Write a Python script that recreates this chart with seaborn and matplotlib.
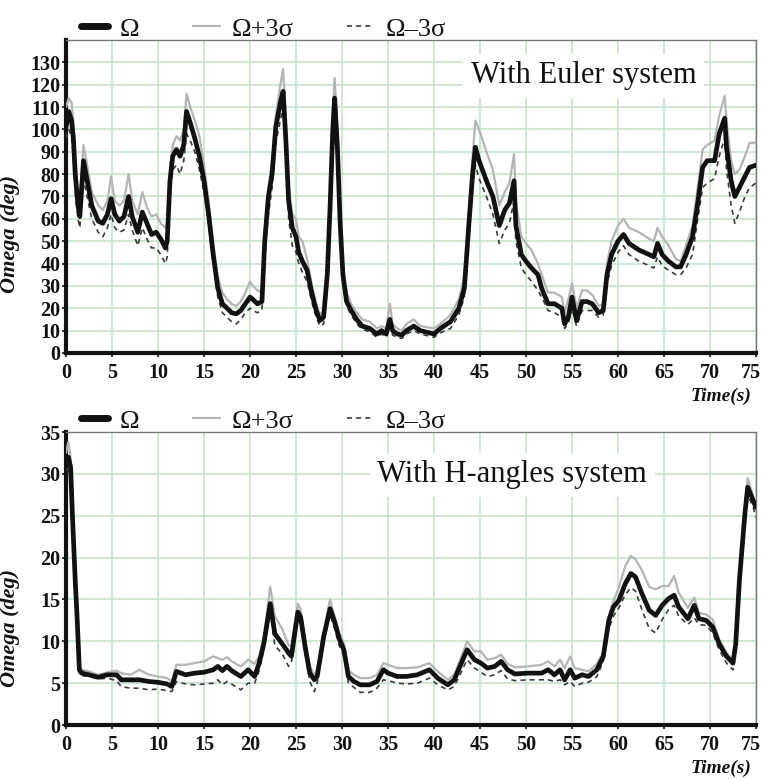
import matplotlib
matplotlib.use("Agg")
import matplotlib.pyplot as plt
import matplotlib.transforms as mtransforms
import seaborn as sns
import pandas as pd
from matplotlib.lines import Line2D

# ---------------- data: Euler system ----------------
t_euler = [0, 0.3, 0.6, 0.8, 1.0, 1.3, 1.5, 1.9, 2.3, 2.8, 3.5, 4.0, 4.5, 4.9, 5.3, 5.8, 6.3, 6.8, 7.2, 7.8,
           8.3, 8.8, 9.3, 9.8, 10.3, 10.8, 11.0, 11.3, 11.6, 12.0, 12.4, 12.8, 13.1, 13.5, 14.0, 14.5, 15.0, 15.5,
           16.0, 16.5, 17.0, 17.5, 18.0, 18.5, 19.0, 19.5, 20.0, 20.3, 20.8, 21.3, 21.6, 22.0, 22.4, 22.8, 23.3,
           23.6, 23.9, 24.2, 24.6, 25.0, 25.3, 25.7, 26.2, 26.7, 27.2, 27.6, 28.0, 28.4, 28.7, 29.0, 29.2, 29.5,
           29.8, 30.1, 30.5, 31.0, 31.6, 32.2, 33.0, 33.8, 34.3, 34.8, 35.2, 35.5, 36.0, 36.5, 37.0, 37.8, 38.5,
           40.0, 40.7, 41.8, 42.7, 43.3, 43.8, 44.2, 44.5, 44.9, 45.7, 46.4, 47.1, 47.7, 48.2, 48.7, 48.9, 49.5,
           50.0, 50.6, 51.3, 51.7, 52.4, 53.1, 53.9, 54.2, 54.6, 55.0, 55.5, 56.1, 56.6, 57.2, 57.9, 58.4, 58.8,
           59.3, 60.0, 60.6, 61.2, 62.3, 63.4, 63.9, 64.3, 64.8, 65.5, 66.3, 66.8, 67.4, 68.1, 68.6, 69.2, 69.7,
           70.5, 71.0, 71.6, 71.8, 72.3, 72.7, 73.2, 73.8, 74.3, 75.0]
omega_euler = [101, 108, 104, 96, 80, 66, 61, 86, 77, 66, 59, 58, 62, 69, 62, 59, 61, 70, 61, 54,
               63, 58, 53, 54, 51, 47, 50, 77, 88, 91, 88, 93, 108, 103, 96, 88, 77, 62,
               44, 29, 22, 20, 18, 17.5, 19, 22, 25, 24, 22, 23, 50, 70, 80, 101, 112,
               117, 95, 68, 56, 52, 45, 41, 37, 27, 19, 14.5, 16, 35, 65, 100, 114, 92,
               58, 35, 23, 19, 15, 12, 11, 8.5, 10, 8.5, 15, 10, 8.5, 8, 10, 12, 10,
               8.5, 11, 14, 20, 29, 58, 80, 92, 86, 77, 70, 57, 64, 67, 77, 57, 44,
               41, 38, 35, 29, 22, 22, 20, 13, 16, 25, 14.5, 23, 23, 22, 18, 19, 35,
               44, 50, 53, 49, 46, 44, 43, 49, 44, 41, 38.5, 38.5, 44, 52, 65, 83, 86,
               86, 98, 105, 92, 77, 70, 74, 79, 83, 84]
upper_euler = [110, 114, 112, 104, 88, 72, 68, 93, 84, 72, 66, 64, 68, 79, 68, 66, 68, 80, 68, 62,
               72, 65, 61, 62, 58, 56, 58, 82, 93, 97, 95, 100, 116, 110, 104, 97, 84, 68,
               49, 34, 27, 24, 22, 21, 23, 27, 32, 30, 28, 27, 54, 74, 86, 106, 120,
               127, 104, 75, 62, 60, 52, 50, 42, 31, 22, 17, 19, 40, 70, 108, 123, 100,
               64, 39, 27, 22, 18, 15, 14, 11, 12, 11, 22, 13, 11, 10, 13, 15, 12,
               11, 13, 17, 24, 34, 64, 88, 104, 100, 90, 82, 66, 72, 76, 89, 68, 52,
               49, 46, 40, 35, 27, 27, 25, 18, 24, 31, 20, 28, 28, 26, 21, 22, 40,
               50, 57, 60, 56, 54, 51, 50, 56, 52, 48, 42, 41, 48, 57, 72, 91, 93,
               95, 106, 115, 104, 86, 80, 82, 88, 94, 94]
lower_euler = [96, 100, 97, 88, 72, 60, 56, 78, 70, 60, 54, 52, 56, 62, 56, 54, 55, 62, 55, 48,
               56, 51, 47, 47, 44, 40, 43, 70, 82, 84, 80, 86, 98, 95, 90, 82, 72, 58,
               40, 25, 18, 16, 14, 13, 15, 18, 20, 19, 18, 19, 44, 62, 74, 94, 104,
               110, 86, 60, 48, 45, 40, 36, 32, 23, 16, 12, 13, 30, 58, 90, 106, 84,
               52, 31, 21, 17, 13, 10.5, 9.5, 7, 8.5, 7, 12, 8, 7, 6.5, 8.5, 10, 8.5,
               7, 9, 11, 17, 25, 52, 74, 84, 78, 70, 62, 49, 55, 58, 68, 50, 38,
               35, 32, 28, 25, 19, 18, 16, 11, 13, 20, 12, 19, 19, 19, 16, 17, 31,
               39, 45, 48, 44, 41, 39, 38, 43, 39, 37, 35, 35, 38, 44, 58, 74, 76,
               78, 88, 96, 82, 66, 58, 63, 70, 74, 76]

# ---------------- data: H-angles system ----------------
t_h = [0, 0.25, 0.5, 0.7, 1.0, 1.2, 1.45, 1.7, 2.5, 3.5, 4.5, 5.5, 6.0, 7.0, 8.0, 9.0, 10.0, 11.0, 11.5,
       12.0, 13.0, 14.0, 15.0, 16.0, 16.5, 17.0, 17.5, 18.0, 19.0, 19.8, 20.5, 21.0, 21.5, 22.2, 22.7,
       23.5, 24.2, 24.5, 25.2, 25.5, 26.0, 26.5, 27.0, 27.3, 28.0, 28.7, 29.2, 29.7, 30.2, 30.7, 31.3,
       32.0, 33.0, 33.8, 34.5, 35.0, 36.0, 37.0, 38.2, 39.5, 40.4, 41.5, 42.2, 42.9, 43.6, 44.4, 45.1,
       45.8, 46.6, 47.3, 48.0, 48.8, 50.2, 51.7, 52.4, 53.1, 53.7, 54.2, 54.8, 55.3, 56.1, 56.8, 57.7,
       58.4, 59.0, 59.5, 60.1, 60.8, 61.4, 61.9, 62.6, 63.4, 64.1, 64.8, 65.5, 66.1, 66.6, 67.6, 68.3,
       68.8, 69.6, 70.3, 71.0, 71.8, 72.5, 72.8, 73.2, 73.8, 74.1, 74.7, 75.0]
omega_h = [31.6, 32, 30.8, 25, 17.3, 13, 6.6, 6.2, 6.0, 5.7, 6.0, 6.0, 5.4, 5.4, 5.4, 5.2, 5.1, 4.9, 4.6,
           6.4, 6.0, 6.2, 6.3, 6.6, 7.0, 6.5, 7.0, 6.5, 5.8, 6.6, 5.8, 7.4, 9.7, 14.5, 10.9,
           9.7, 8.6, 8.2, 13.5, 12.9, 9.3, 6.2, 5.4, 5.8, 10.5, 13.9, 12.3, 10.3, 9.0, 5.8, 5.2,
           4.8, 4.8, 5.2, 6.6, 6.2, 5.8, 5.8, 6.0, 6.6, 5.6, 4.8, 5.4, 7.2, 9.0, 7.8, 7.4,
           6.8, 7.0, 7.6, 6.6, 6.1, 6.2, 6.2, 6.6, 6.0, 6.6, 5.4, 6.6, 5.6, 6.0, 5.8, 6.6,
           8.2, 12.5, 14.1, 14.9, 16.9, 18.1, 17.7, 15.7, 13.7, 13.1, 14.3, 15.1, 15.5, 14.1, 12.7, 14.3,
           12.7, 12.5, 11.7, 9.7, 8.2, 7.4, 9.7, 17.3, 25.3, 28.4, 26.8, 26.0]
upper_h = [32.5, 33.8, 32, 26, 18, 13.8, 7, 6.6, 6.4, 6.0, 6.3, 6.5, 6.2, 6.0, 6.6, 6.0, 5.8, 5.6, 5.2,
           7.2, 7.2, 7.4, 7.6, 8.2, 8.0, 7.8, 8.1, 7.6, 7.0, 7.8, 7.3, 8.2, 10.5, 16.5, 13.0,
           11.5, 9.5, 9.5, 14.5, 13.8, 10.0, 7.0, 6.0, 6.5, 11.0, 15.0, 13.0, 11.0, 9.8, 6.5, 6.0,
           5.6, 5.6, 6.0, 7.4, 7.2, 6.8, 6.8, 6.9, 7.4, 6.4, 5.4, 6.0, 8.0, 10.0, 8.8, 8.8,
           7.8, 8.0, 8.4, 7.3, 6.9, 7.0, 7.2, 7.6, 7.0, 7.8, 6.8, 8.2, 6.8, 6.6, 6.4, 7.3,
           8.6, 13.0, 14.8, 16.5, 19.0, 20.2, 19.8, 18.5, 16.5, 16.2, 16.6, 16.6, 17.8, 15.8, 14.0, 15.2,
           13.4, 13.2, 12.6, 10.2, 8.6, 7.8, 10.0, 17.8, 26.0, 29.5, 27.3, 26.3]
lower_h = [30.5, 30.5, 29, 23.5, 16.5, 12, 6, 5.9, 5.8, 5.5, 5.6, 5.3, 4.6, 4.4, 4.4, 4.2, 4.3, 4.1, 4.0,
           5.2, 4.9, 4.8, 4.9, 5.0, 5.4, 4.8, 5.2, 4.9, 4.2, 5.0, 5.0, 6.5, 9.0, 13.5, 9.5,
           8.5, 7.0, 7.5, 12.8, 12.0, 8.5, 5.2, 4.0, 5.0, 9.8, 13.2, 11.5, 9.5, 8.3, 5.0, 4.5,
           3.9, 3.9, 4.4, 5.4, 5.3, 5.0, 4.9, 5.0, 5.6, 4.8, 4.2, 4.6, 6.2, 7.8, 6.8, 6.3,
           5.8, 6.0, 6.5, 5.5, 5.3, 5.4, 5.4, 5.4, 5.2, 5.4, 4.8, 5.2, 4.6, 5.0, 5.1, 5.8,
           7.6, 11.5, 13.0, 14.0, 15.6, 16.4, 16.0, 13.8, 11.5, 11.0, 12.6, 13.8, 14.3, 13.0, 12.0, 12.8,
           12.0, 11.9, 11.0, 9.0, 7.4, 6.6, 9.0, 16.5, 24.5, 27.5, 26.0, 24.8]

series_labels = ["\u03a9", "\u03a9+3\u03c3", "\u03a9\u20133\u03c3"]
panel_texts = ["With Euler system", "With H-angles system"]
x_ticks = list(range(0, 80, 5))
y_ticks_euler = list(range(0, 140, 10))
y_ticks_h = list(range(0, 40, 5))

sns.set_theme(style="white")
plt.rcParams["font.family"] = ["Liberation Serif", "DejaVu Serif"]

fig = plt.figure(figsize=(7.64, 7.79), dpi=100)
ax1 = fig.add_axes([0.0864, 0.5469, 0.9031, 0.4018])
ax2 = fig.add_axes([0.0864, 0.0693, 0.9031, 0.3761])

grid_color = "#c6e4c9"
panels = [
    (ax1, t_euler, omega_euler, upper_euler, lower_euler, (0, 140), y_ticks_euler, panel_texts[0], (56.3, 124), 0.38, -0.14),
    (ax2, t_h, omega_h, upper_h, lower_h, (0, 35), y_ticks_h, panel_texts[1], (48.5, 29.9), 0.33, -0.148),
]

for ax, t, om, up, lo, ylim, yt, ptxt, tpos, ylab_y, xlab_y in panels:
    df = pd.DataFrame({"t": t, "om": om, "up": up, "lo": lo})
    sns.lineplot(data=df, x="t", y="up", ax=ax, color="#b4b4b4", linewidth=1.6, zorder=3)
    sns.lineplot(data=df, x="t", y="lo", ax=ax, color="#3a3a3a", linewidth=1.2, linestyle=(0, (3, 2.5)), zorder=3)
    sns.lineplot(data=df, x="t", y="om", ax=ax, color="#111111", linewidth=3.4, zorder=4)
    ax.set_xlim(0, 75)
    ax.set_ylim(*ylim)
    ax.set_xticks(x_ticks)
    ax.set_yticks(yt)
    ax.grid(True, color=grid_color, linewidth=1.2, zorder=0)
    ax.set_axisbelow(True)
    for lab in ax.get_xticklabels() + ax.get_yticklabels():
        lab.set_fontweight("bold")
        lab.set_fontsize(14.5)
    ax.tick_params(axis="both", which="both", direction="out", length=3, width=1.2, color="#111111",
                   labelcolor="#111111", pad=2, bottom=True, left=True)
    ax.tick_params(axis="x", pad=4)
    ax.tick_params(axis="y", pad=1)
    # nudge the last x tick label so it stays inside the figure
    last = ax.get_xticklabels()[-1]
    last.set_transform(last.get_transform() + mtransforms.ScaledTranslation(-5 / 100, 0, fig.dpi_scale_trans))
    ax.spines["left"].set_linewidth(3)
    ax.spines["left"].set_color("#111111")
    ax.spines["bottom"].set_linewidth(3)
    ax.spines["bottom"].set_color("#111111")
    for s in ("top", "right"):
        ax.spines[s].set_linewidth(1.0)
        ax.spines[s].set_color("#777777")
        ax.spines[s].set_visible(True)
    ax.set_xlabel("")
    ax.set_ylabel("Omega (deg)", fontsize=16, fontstyle="italic", fontweight="bold", color="#111111")
    ax.yaxis.set_label_coords(-0.066, ylab_y)
    ax.text(0.993, xlab_y, "Time(s)", transform=ax.transAxes, ha="right", va="center",
            fontsize=14, fontstyle="italic", fontweight="bold", color="#111111")
    ax.text(tpos[0], tpos[1], ptxt, ha="center", va="center", fontsize=22, color="#111111", zorder=5,
            bbox=dict(boxstyle="square,pad=0.25", facecolor="white", edgecolor="none"))
    handles = [
        Line2D([], [], color="#111111", linewidth=5),
        Line2D([], [], color="#b4b4b4", linewidth=1.6),
        Line2D([], [], color="#3a3a3a", linewidth=1.2, linestyle=(0, (3, 2.5))),
    ]
    leg = ax.legend(handles, series_labels, ncol=3, loc="lower left", bbox_to_anchor=(0.022, 0.998),
                    frameon=False, fontsize=19, handlelength=1.0, handletextpad=0.45, columnspacing=2.05,
                    borderaxespad=0.0, borderpad=0.0)
    for txt in leg.get_texts():
        txt.set_color("#111111")

fig.savefig("out.png", dpi=100)
